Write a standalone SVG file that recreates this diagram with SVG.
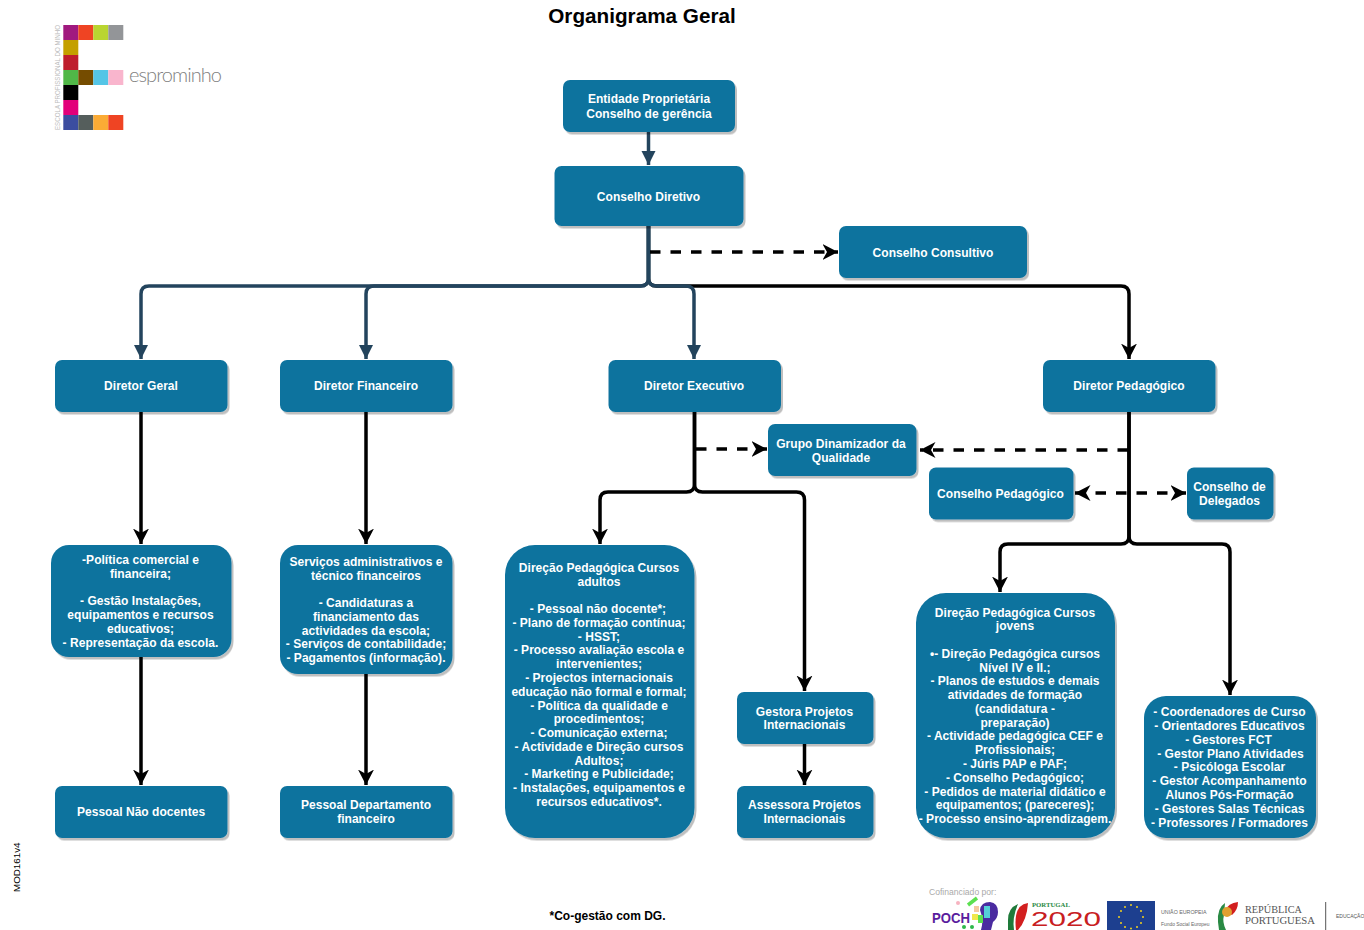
<svg xmlns="http://www.w3.org/2000/svg" width="1364" height="930" viewBox="0 0 1364 930">
<style>
text{font-family:"Liberation Sans",Arial,sans-serif}
.n rect{fill:#10739e;filter:url(#sh)}
.n text{fill:#fff;font-size:12px;font-weight:700;text-anchor:middle;letter-spacing:.04px}
.c path{fill:none;stroke-width:3.5}
.k{stroke:#000;marker-end:url(#ak)}
.b{stroke:#23445d;marker-end:url(#ab)}
.d{stroke-dasharray:10.500 10}
.t{font-weight:700;fill:#000}
</style>
<defs>
<filter id="sh" x="-5%" y="-5%" width="112%" height="115%"><feDropShadow dx="2" dy="2.500" stdDeviation=".5" flood-color="#000" flood-opacity=".25"/></filter>
<marker id="ak" markerUnits="userSpaceOnUse" markerWidth="18" markerHeight="18" refX="15.500" refY="8" orient="auto-start-reverse"><path d="M0,0 L15.500,8 L0,16 L4.500,8Z" fill="#000"/></marker>
<marker id="ab" markerUnits="userSpaceOnUse" markerWidth="18" markerHeight="18" refX="14" refY="8" orient="auto"><path d="M0,1 L14,8 L0,15Z" fill="#23445d"/></marker>
</defs>

<text class="t" x="642" y="23" font-size="20.700" text-anchor="middle">Organigrama Geral</text>
<text class="t" x="607.500" y="920" font-size="12" text-anchor="middle">*Co-gestão com DG.</text>
<text x="20" y="892" font-size="9.800" fill="#000" transform="rotate(-90 20 892)">MOD161v4</text>

<g id="logo">
<rect x="63.300" y="25" width="15" height="15" fill="#a0197f"/><rect x="78.300" y="25" width="15" height="15" fill="#ef4423"/><rect x="93.300" y="25" width="15" height="15" fill="#b9d531"/><rect x="108.300" y="25" width="15" height="15" fill="#939598"/>
<rect x="63.300" y="40" width="15" height="15" fill="#c4a000"/><rect x="63.300" y="55" width="15" height="15" fill="#be1e2d"/>
<rect x="63.300" y="70" width="15" height="15" fill="#50b848"/><rect x="78.300" y="70" width="15" height="15" fill="#754c00"/><rect x="93.300" y="70" width="15" height="15" fill="#55c5e6"/><rect x="108.300" y="70" width="15" height="15" fill="#f9b5cd"/>
<rect x="63.300" y="85" width="15" height="15" fill="#000"/><rect x="63.300" y="100" width="15" height="15" fill="#e2007a"/>
<rect x="63.300" y="115" width="15" height="15" fill="#3b4da0"/><rect x="78.300" y="115" width="15" height="15" fill="#555e5c"/><rect x="93.300" y="115" width="15" height="15" fill="#fbab35"/><rect x="108.300" y="115" width="15" height="15" fill="#ef4423"/>
<text x="60" y="130" font-size="7" fill="#bcbcbc" transform="rotate(-90 60 130)" textLength="105" lengthAdjust="spacingAndGlyphs">ESCOLA PROFISSIONAL DO MINHO</text>
<text x="129" y="82" font-size="20" fill="#808080" style="font-family:Lato,'Liberation Sans',sans-serif;font-weight:300" textLength="93">esprominho</text>
</g>

<g class="c" id="connectors">
<path class="b" d="M648.500 132V165"/>
<path class="k" d="M648.500 226V278Q648.500 286 656.500 286H1121Q1129 286 1129 294V359"/>
<path class="b" d="M648.500 226V278Q648.500 286 640.500 286H149Q141 286 141 294V359"/>
<path class="b" d="M648.500 226V278Q648.500 286 640.500 286H374Q366 286 366 294V359"/>
<path class="b" d="M648.500 226V278Q648.500 286 656.500 286H686Q694 286 694 294V359"/>
<path class="k d" d="M650 252H838"/>
<path class="k" d="M141 412V544"/><path class="k" d="M141 657V785"/>
<path class="k" d="M366 412V544"/><path class="k" d="M366 674V785"/>
<path class="k" d="M694.500 412V484Q694.500 492 686.500 492H608Q600 492 600 500V544"/>
<path class="k" d="M694.500 412V484Q694.500 492 702.500 492H796.500Q804.500 492 804.500 500V691"/>
<path class="k" d="M804.500 744V785"/>
<path class="k d" d="M696 449H767"/>
<path class="k" d="M1129 412V536Q1129 544 1121 544H1008Q1000 544 1000 552V592"/>
<path class="k" d="M1129 412V536Q1129 544 1137 544H1222Q1230 544 1230 552V695"/>
<path class="k d" d="M1128 450H920"/>
<path class="k d" style="marker-start:url(#ak)" d="M1075 493H1186"/>
</g>

<g class="n" id="entidade"><rect x="563" y="80" width="172" height="52" rx="7"/><text x="649" y="103">Entidade Proprietária</text><text x="649" y="118">Conselho de gerência</text></g>
<g class="n" id="diretivo"><rect x="554.500" y="166" width="189" height="60" rx="7"/><text x="648.500" y="201">Conselho Diretivo</text></g>
<g class="n" id="consultivo"><rect x="839" y="226" width="188" height="52" rx="7"/><text x="933" y="257">Conselho Consultivo</text></g>
<g class="n" id="dgeral"><rect x="55" y="360" width="172.500" height="52" rx="7"/><text x="141" y="390">Diretor Geral</text></g>
<g class="n" id="dfin"><rect x="280" y="360" width="172.500" height="52" rx="7"/><text x="366" y="390">Diretor Financeiro</text></g>
<g class="n" id="dexec"><rect x="608.500" y="360" width="172.500" height="52" rx="7"/><text x="694" y="390">Diretor Executivo</text></g>
<g class="n" id="dped"><rect x="1043" y="360" width="172.500" height="52" rx="7"/><text x="1129" y="390">Diretor Pedagógico</text></g>
<g class="n" id="grupo"><rect x="768" y="424" width="148.500" height="52" rx="7"/><text x="841" y="448">Grupo Dinamizador da</text><text x="841" y="462">Qualidade</text></g>
<g class="n" id="cped"><rect x="929" y="467.500" width="144.500" height="52" rx="7"/><text x="1000.500" y="498">Conselho Pedagógico</text></g>
<g class="n" id="cdel"><rect x="1187" y="467.500" width="86.500" height="52" rx="7"/><text x="1229.500" y="491">Conselho de</text><text x="1229.500" y="505">Delegados</text></g>

<g class="n" id="boxdg"><rect x="51" y="545" width="180.500" height="112" rx="18"/>
<text x="140.500" y="564">-Política comercial e</text><text x="140.500" y="578">financeira;</text><text x="140.500" y="605">- Gestão Instalações,</text><text x="140.500" y="619">equipamentos e recursos</text><text x="140.500" y="633">educativos;</text><text x="140.500" y="647">- Representação da escola.</text></g>
<g class="n" id="boxfin"><rect x="280" y="545" width="172.500" height="129" rx="18"/>
<text x="366" y="566">Serviços administrativos e</text><text x="366" y="580">técnico financeiros</text><text x="366" y="607">- Candidaturas a</text><text x="366" y="621">financiamento das</text><text x="366" y="635">actividades da escola;</text><text x="366" y="648">- Serviços de contabilidade;</text><text x="366" y="662">- Pagamentos (informação).</text></g>
<g class="n" id="pnd"><rect x="55" y="786" width="172.500" height="52" rx="7"/><text x="141" y="816">Pessoal Não docentes</text></g>
<g class="n" id="pdf"><rect x="280" y="786" width="172.500" height="52" rx="7"/><text x="366" y="809">Pessoal Departamento</text><text x="366" y="823">financeiro</text></g>

<g class="n" id="adultos"><rect x="505" y="545" width="189.500" height="293" rx="30"/>
<text x="599" y="572">Direção Pedagógica Cursos</text><text x="599" y="586">adultos</text>
<text x="598" y="613">- Pessoal não docente*;</text><text x="599" y="627">- Plano de formação contínua;</text><text x="599" y="641">- HSST;</text><text x="599" y="654">- Processo avaliação escola e</text><text x="599" y="668">intervenientes;</text><text x="599" y="682">- Projectos internacionais</text><text x="599" y="696">educação não formal e formal;</text><text x="599" y="710">- Política da qualidade e</text><text x="599" y="723">procedimentos;</text><text x="599" y="737">- Comunicação externa;</text><text x="599" y="751">- Actividade e Direção cursos</text><text x="599" y="765">Adultos;</text><text x="599" y="778">- Marketing e Publicidade;</text><text x="599" y="792">- Instalações, equipamentos e</text><text x="599" y="806">recursos educativos*.</text></g>
<g class="n" id="gestora"><rect x="737" y="692" width="136.500" height="52" rx="7"/><text x="804.500" y="716">Gestora Projetos</text><text x="804.500" y="729">Internacionais</text></g>
<g class="n" id="assessora"><rect x="737" y="786" width="136.500" height="52" rx="7"/><text x="804.500" y="809">Assessora Projetos</text><text x="804.500" y="823">Internacionais</text></g>

<g class="n" id="jovens"><rect x="916" y="593" width="199" height="245" rx="30"/>
<text x="1015" y="617">Direção Pedagógica Cursos</text><text x="1015" y="630">jovens</text>
<text x="1015" y="658">•- Direção Pedagógica cursos</text><text x="1015" y="672">Nível IV e II.;</text><text x="1015" y="685">- Planos de estudos e demais</text><text x="1015" y="699">atividades de formação</text><text x="1015" y="713">(candidatura -</text><text x="1015" y="727">preparação)</text><text x="1015" y="740">- Actividade pedagógica CEF e</text><text x="1015" y="754">Profissionais;</text><text x="1015" y="768">- Júris PAP e PAF;</text><text x="1015" y="782">- Conselho Pedagógico;</text><text x="1015" y="796">- Pedidos de material didático e</text><text x="1015" y="809">equipamentos; (pareceres);</text><text x="1015" y="823">- Processo ensino-aprendizagem.</text></g>
<g class="n" id="equipa"><rect x="1144" y="696" width="172" height="142" rx="22"/>
<text x="1229.500" y="716">- Coordenadores de Curso</text><text x="1229.500" y="730">- Orientadores Educativos</text><text x="1228.500" y="744">- Gestores FCT</text><text x="1230.500" y="758">- Gestor Plano Atividades</text><text x="1229.500" y="771">- Psicóloga Escolar</text><text x="1229.500" y="785">- Gestor Acompanhamento</text><text x="1229.500" y="799">Alunos Pós-Formação</text><text x="1229.500" y="813">- Gestores Salas Técnicas</text><text x="1229.500" y="827">- Professores / Formadores</text></g>

<g id="apoios">
<text x="929" y="895" font-size="8.600" fill="#aaa">Cofinanciado por:</text>
<text x="932" y="923" font-size="15" font-weight="700" fill="#5a1d9e" textLength="38" lengthAdjust="spacingAndGlyphs">POCH</text>
<path d="M968 905L977 898" stroke="#5be050" stroke-width="3.500"/>
<path d="M980 910Q981 902 990 902Q998 903 998 912Q998 918 993 922L991 930H981Q984 920 980 910Z" fill="#4a2ba0"/>
<rect x="984" y="906" width="6" height="12" fill="#55d0d8"/><rect x="974" y="906" width="5" height="6" fill="#f4c9a0"/><rect x="972" y="914" width="6" height="6" fill="#f0e84a"/><rect x="978" y="915" width="5" height="8" fill="#5be050"/><circle cx="964" cy="927" r="2" fill="#2db84a"/><circle cx="972" cy="927" r="2" fill="#2db84a"/><circle cx="958" cy="903" r="2" fill="#f7b3c0"/>
<path d="M1018 904Q1008 908 1008 920V930H1014Q1012 918 1018 904Z" fill="#1e7a3a"/><path d="M1028 903Q1018 904 1016 916Q1015 922 1016 930H1018Q1027 920 1028 903Z" fill="#d21f1f"/>
<text x="1032" y="906.500" font-size="7" font-weight="700" fill="#2a8a44" style="font-family:'Liberation Serif',serif" textLength="38" lengthAdjust="spacingAndGlyphs">PORTUGAL</text>
<text x="1031" y="925.500" font-size="20" fill="#c8201f" textLength="70" lengthAdjust="spacingAndGlyphs">2020</text>
<rect x="1107" y="901" width="48" height="29" fill="#1d3f8f"/>
<g fill="#f2d21d"><circle cx="1131" cy="905" r="1"/><circle cx="1137" cy="907" r="1"/><circle cx="1141" cy="911" r="1"/><circle cx="1143" cy="917" r="1"/><circle cx="1141" cy="923" r="1"/><circle cx="1137" cy="927" r="1"/><circle cx="1131" cy="928.500" r="1"/><circle cx="1125" cy="927" r="1"/><circle cx="1121" cy="923" r="1"/><circle cx="1119" cy="917" r="1"/><circle cx="1121" cy="911" r="1"/><circle cx="1125" cy="907" r="1"/></g>
<text x="1161" y="914" font-size="5.300" fill="#666">UNIÃO EUROPEIA</text><text x="1161" y="925.500" font-size="4.900" fill="#666">Fundo Social Europeu</text>
<path d="M1225 903Q1217 908 1218 922L1219 930H1226Q1222 922 1224 915Z" fill="#2a8a44"/><path d="M1238 902Q1228 903 1225 911L1232 915Q1238 910 1238 902Z" fill="#d21f1f"/><circle cx="1227" cy="912" r="5" fill="#e0a030"/>
<text x="1245" y="912.500" font-size="10" fill="#555" style="font-family:'Liberation Serif',serif" textLength="57" lengthAdjust="spacingAndGlyphs">REPÚBLICA</text><text x="1245" y="924" font-size="10" fill="#555" style="font-family:'Liberation Serif',serif" textLength="70" lengthAdjust="spacingAndGlyphs">PORTUGUESA</text>
<path d="M1325.700 902V930" stroke="#555" stroke-width="1"/>
<text x="1336" y="918" font-size="5" fill="#555">EDUCAÇÃO</text>
</g>
</svg>
